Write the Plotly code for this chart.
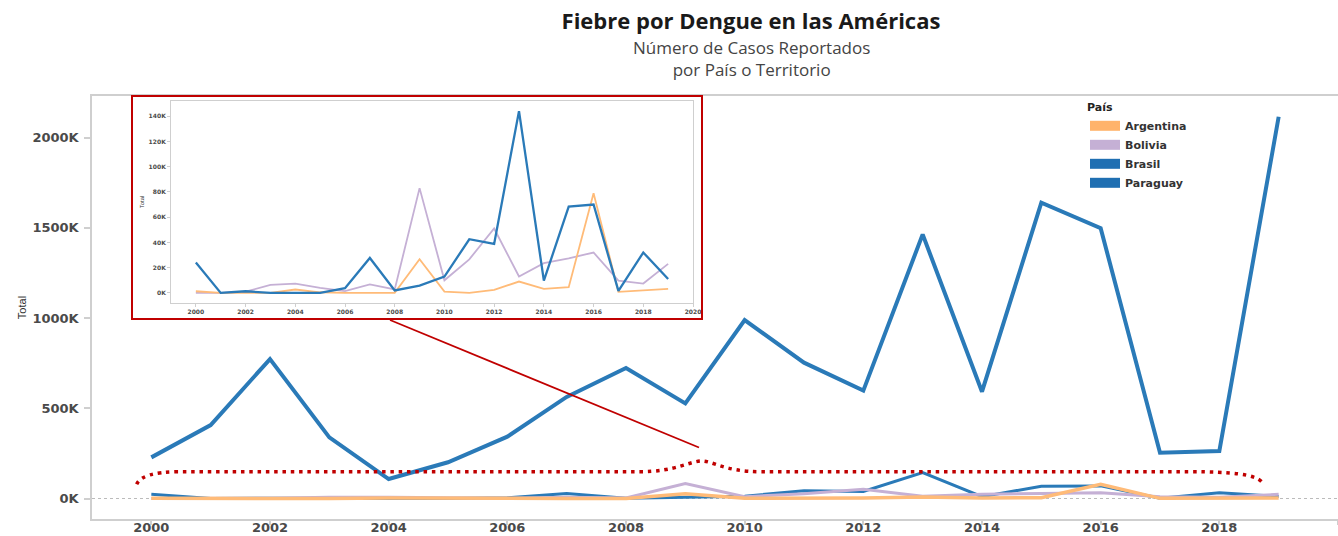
import plotly.graph_objects as go

# ---------------- data ----------------
years = list(range(2000, 2020))
brasil = [228000, 407000, 773000, 339000, 108000, 201000, 343000, 563000, 723000, 527000,
          989000, 753000, 598000, 1464000, 592000, 1640000, 1498000, 254000, 263000, 2116000]
paraguay = [24000, 0, 1300, 0, 0, 0, 3700, 27700, 2000, 5800,
            12900, 42500, 38800, 144000, 9700, 68300, 70000, 1600, 32000, 11000]
bolivia = [0, 0, 1000, 6300, 7400, 4000, 1400, 6700, 2700, 83000,
           10000, 26600, 51000, 13000, 23500, 27400, 32000, 9700, 7400, 23000]
argentina = [1300, 0, 0, 0, 2700, 500, 0, 0, 0, 26600,
             1000, 0, 2400, 9000, 3200, 4500, 79000, 800, 2000, 3200]

countries = ["Argentina", "Bolivia", "Brasil", "Paraguay"]
legend_colors = ["#FFB36B", "#C5B0D5", "#1F6FB2", "#1F6FB2"]

x_ticks = list(range(2000, 2021, 2))
main_y_ticks = [0, 500000, 1000000, 1500000, 2000000]
inset_y_ticks = [0, 20000, 40000, 60000, 80000, 100000, 120000, 140000]

title_text = "Fiebre por Dengue en las Américas"
subtitle_1 = "Número de Casos Reportados"
subtitle_2 = "por País o Territorio"

# ---------------- styling ----------------
BLUE = "#2A7AB8"
PURPLE = "#C5B0D5"
ORANGE = "#FFBB78"
RED = "#C00000"
AX = "#CFCFCF"
TICKC = "#4A4A4A"

W, H = 1338, 536
ML, MR, MT, MB = 92, 0, 96, 17
PW, PH = W - ML - MR, H - MT - MB


def px_x(px):
    return (px - ML) / PW


def px_y(py):
    return (H - MB - py) / PH


fig = go.Figure()

# main chart
fig.add_trace(go.Scatter(x=years, y=brasil, mode="lines", name="Brasil",
                         line=dict(color=BLUE, width=4), showlegend=False))
fig.add_trace(go.Scatter(x=years, y=paraguay, mode="lines", name="Paraguay",
                         line=dict(color=BLUE, width=3), showlegend=False))
fig.add_trace(go.Scatter(x=years, y=bolivia, mode="lines", name="Bolivia",
                         line=dict(color=PURPLE, width=3), showlegend=False))
fig.add_trace(go.Scatter(x=years, y=argentina, mode="lines", name="Argentina",
                         line=dict(color=ORANGE, width=3.5), showlegend=False))

# inset (zoom on the smaller countries)
fig.add_trace(go.Scatter(x=years, y=bolivia, mode="lines", name="Bolivia",
                         line=dict(color=PURPLE, width=1.8), showlegend=False,
                         xaxis="x2", yaxis="y2"))
fig.add_trace(go.Scatter(x=years, y=argentina, mode="lines", name="Argentina",
                         line=dict(color=ORANGE, width=1.8), showlegend=False,
                         xaxis="x2", yaxis="y2"))
fig.add_trace(go.Scatter(x=years, y=paraguay, mode="lines", name="Paraguay",
                         line=dict(color=BLUE, width=2.3), showlegend=False,
                         xaxis="x2", yaxis="y2"))

# legend entries (swatches)
for name, col in zip(countries, legend_colors):
    fig.add_trace(go.Scatter(x=[None], y=[None], mode="lines", name=name,
                             line=dict(color=col, width=12), showlegend=True,
                             hoverinfo="skip"))

tick_font = dict(family="DejaVu Sans", size=13, color=TICKC, weight="bold")
inset_font = dict(family="DejaVu Sans", size=6, color=TICKC, weight="bold")

fig.update_layout(
    width=W, height=H,
    margin=dict(l=ML, r=MR, t=MT, b=MB, pad=0, autoexpand=False),
    paper_bgcolor="white", plot_bgcolor="white",
    title=dict(text="<b>" + title_text + "</b>", x=751 / W, xref="container",
               xanchor="center", y=1 - 21 / H, yref="container", yanchor="middle",
               font=dict(family="Open Sans", size=22, color="#1A1A1A"),
               automargin=False),
    xaxis=dict(domain=[0, 1], range=[1999, 2020], tickvals=x_ticks,
               ticks="outside", ticklen=4, tickcolor=AX, tickwidth=1.5,
               ticklabelstandoff=-8,
               showline=True, linecolor=AX, linewidth=1.5, mirror=True,
               showgrid=False, zeroline=False, tickfont=tick_font,
               automargin=False, anchor="y"),
    yaxis=dict(domain=[0, 1], range=[-113600, 2231000], tickvals=main_y_ticks,
               ticktext=[f"{v // 1000}K" for v in main_y_ticks],
               ticks="outside", ticklen=6, tickcolor=AX, tickwidth=1.5,
               ticklabelstandoff=3,
               showline=True, linecolor=AX, linewidth=1.5, mirror=False,
               showgrid=False, zeroline=False, tickfont=tick_font,
               title=dict(text="Total", standoff=4,
                          font=dict(family="Liberation Sans", size=11, color="#333333")),
               automargin=False, anchor="x"),
    xaxis2=dict(domain=[px_x(171), px_x(693)], range=[1999, 2020], tickvals=x_ticks,
                ticks="outside", ticklen=3, tickcolor=AX, tickwidth=1,
                showline=True, linecolor=AX, linewidth=1, mirror=True,
                showgrid=False, zeroline=False, tickfont=inset_font,
                automargin=False, anchor="y2"),
    yaxis2=dict(domain=[px_y(303), px_y(101)], range=[-8000, 152000],
                tickvals=inset_y_ticks,
                ticktext=[f"{v // 1000}K" for v in inset_y_ticks],
                ticks="outside", ticklen=3, tickcolor=AX, tickwidth=1,
                showline=True, linecolor=AX, linewidth=1, mirror=True,
                showgrid=False, zeroline=False, tickfont=inset_font,
                title=dict(text="Total", standoff=3,
                           font=dict(family="Liberation Sans", size=6, color="#333333")),
                automargin=False, anchor="x2"),
    legend=dict(x=px_x(1085), xanchor="left", y=px_y(97), yanchor="top",
                bgcolor="rgba(255,255,255,0)",
                title=dict(text="<b>País</b>", font=dict(family="DejaVu Sans", size=11, color="#222222")),
                font=dict(family="DejaVu Sans", size=11, color="#333333", weight="bold"),
                tracegroupgap=0, itemclick=False),
    showlegend=True,
)

# subtitles
fig.add_annotation(text=subtitle_1 + "<br>" + subtitle_2, xref="paper", yref="paper",
                   x=px_x(751), y=px_y(58),
                   xanchor="center", yanchor="middle", showarrow=False, align="center",
                   font=dict(family="Open Sans", size=17, color="#444444"))

# dotted zero line
fig.add_shape(type="line", xref="paper", yref="y", x0=0, x1=1, y0=0, y1=0,
              line=dict(color="#BBBBBB", width=1.2, dash="dot"), layer="below")

# red inset frame
fig.add_shape(type="rect", xref="paper", yref="paper",
              x0=px_x(132), x1=px_x(702), y0=px_y(319), y1=px_y(96),
              line=dict(color=RED, width=2), fillcolor="rgba(0,0,0,0)", layer="above")

# connector line
fig.add_shape(type="line", xref="paper", yref="paper",
              x0=px_x(390), y0=px_y(320), x1=px_x(699), y1=px_y(447.5),
              line=dict(color=RED, width=1.8), layer="above")


# dotted brace
def P(x, y):
    return f"{px_x(x):.5f},{px_y(y):.5f}"


brace = (f"M {P(136.7, 484.3)} Q {P(142, 472)} {P(178, 471.7)} "
         f"L {P(640, 471.7)} C {P(675, 471.7)} {P(690, 461)} {P(701.7, 461)} "
         f"C {P(713, 461)} {P(725, 471.7)} {P(760, 471.7)} "
         f"L {P(1190, 471.7)} C {P(1230, 471.7)} {P(1255, 474)} {P(1262, 482)}")
fig.add_shape(type="path", xref="paper", yref="paper", path=brace,
              line=dict(color=RED, width=3.5, dash="3.5px,4.8px"), layer="above")

fig.write_html("out.html",
               config={"displayModeBar": False},
               post_script="document.body.style.margin='0';document.body.style.overflow='hidden';")
